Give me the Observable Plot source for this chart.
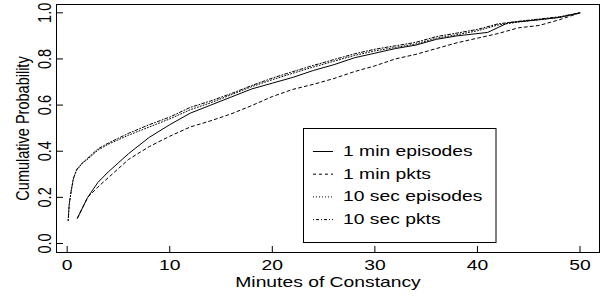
<!DOCTYPE html>
<html><head><meta charset="utf-8">
<script src="https://cdn.jsdelivr.net/npm/d3@7"></script>
<script src="https://cdn.jsdelivr.net/npm/@observablehq/plot@0.6"></script>
<style>body{margin:0;background:#fff;} svg{display:block}</style>
</head><body><div id="chart"></div>
<script>
const xTicks = [0, 10, 20, 30, 40, 50];
const yTicks = [0, 0.2, 0.4, 0.6, 0.8, 1.0];
const seriesNames = ["1 min episodes", "1 min pkts", "10 sec episodes", "10 sec pkts"];
const dashStyles = ["none", "3,3", "1,2", "1,2,3,2"];

const minEpisodesX = [1, 2, 3, 4, 5, 6, 8, 10, 12, 14, 16, 18, 20, 22, 24, 26, 28, 30, 32, 34, 36, 38, 41, 43, 46, 48, 50];
const minEpisodesY = [0.11, 0.20, 0.265, 0.31, 0.35, 0.39, 0.46, 0.515, 0.565, 0.60, 0.635, 0.67, 0.695, 0.72, 0.75, 0.775, 0.805, 0.825, 0.845, 0.86, 0.885, 0.90, 0.915, 0.957, 0.97, 0.98, 1.0];

const minPktsX = [1, 2, 3, 4, 6, 8, 10, 12, 14, 16, 18, 20, 22, 24, 26, 28, 30, 32, 34, 36, 38, 40, 42, 44, 46, 48, 50];
const minPktsY = [0.11, 0.20, 0.245, 0.285, 0.365, 0.42, 0.465, 0.505, 0.532, 0.562, 0.598, 0.637, 0.668, 0.69, 0.715, 0.745, 0.77, 0.80, 0.82, 0.845, 0.87, 0.89, 0.91, 0.935, 0.945, 0.97, 1.0];

const secX = [0.1, 0.2, 0.4, 0.6, 0.9, 1.5, 2, 3, 4, 6, 8, 10, 12, 14, 16, 18, 20, 22, 24, 26, 28, 30, 32, 34, 36, 38, 40, 42, 44, 46, 48, 50];
const secEpisodesY = [0.10, 0.17, 0.23, 0.28, 0.315, 0.35, 0.365, 0.405, 0.43, 0.47, 0.505, 0.54, 0.58, 0.61, 0.645, 0.68, 0.71, 0.738, 0.765, 0.79, 0.815, 0.835, 0.85, 0.865, 0.89, 0.905, 0.922, 0.947, 0.96, 0.97, 0.98, 1.0];
const secPktsY = [0.10, 0.17, 0.23, 0.28, 0.32, 0.35, 0.37, 0.41, 0.435, 0.478, 0.515, 0.548, 0.59, 0.618, 0.65, 0.685, 0.717, 0.745, 0.772, 0.797, 0.822, 0.842, 0.857, 0.872, 0.897, 0.912, 0.928, 0.952, 0.963, 0.973, 0.983, 1.0];

const seriesX = [minEpisodesX, minPktsX, secX, secX];
const seriesY = [minEpisodesY, minPktsY, secEpisodesY, secPktsY];

const FS = 14.5;
const S = 1.33; // horizontal stretch of the original figure

const lineMarks = seriesNames.map((name, i) => {
  const rows = seriesX[i].map((x, j) => ({x, y: seriesY[i][j], series: name}));
  return Plot.line(rows, {x: "x", y: "y", stroke: "black", strokeWidth: 1, strokeDasharray: dashStyles[i] === "none" ? null : dashStyles[i]});
});

const svg = Plot.plot({
  width: 605, height: 297,
  marginLeft: 56, marginRight: 6, marginTop: 4, marginBottom: 45,
  x: {domain: [-1.04, 51.9], axis: null},
  y: {domain: [-0.039, 1.036], axis: null},
  style: {fontFamily: "'Liberation Sans', Arial, sans-serif", fontSize: FS + "px", color: "black", background: "white"},
  marks: [
    Plot.frame({stroke: "black", strokeWidth: 1}),
    Plot.tickX(xTicks, {x: d => d, insetTop: 242, stroke: "black"}),
    Plot.tickY(yTicks, {y: d => d, insetRight: 536, stroke: "black"}),
    Plot.axisX(xTicks, {tickSize: 0, tickPadding: 7, label: null, fontSize: FS}),
    Plot.text(yTicks, {y: d => d, text: d => d.toFixed(1), frameAnchor: "left", dx: -6, rotate: -90, textAnchor: "middle", lineAnchor: "bottom", fontSize: FS}),
    Plot.text(["Cumulative Probability"], {text: d => d, frameAnchor: "left", dx: -28, rotate: -90, textAnchor: "middle", lineAnchor: "bottom", fontSize: FS}),
    Plot.text(["Minutes of Constancy"], {text: d => d, frameAnchor: "bottom", dy: 34.5, lineAnchor: "bottom", fontSize: FS}),
    ...lineMarks
  ]
});
document.getElementById("chart").appendChild(svg);

// legend
const leg = d3.select(svg).append("g").attr("text-anchor", "start");
leg.append("rect").attr("x", 303.5).attr("y", 128.5).attr("width", 192.5).attr("height", 114)
  .attr("fill", "white").attr("stroke", "black").attr("stroke-width", 1);
seriesNames.forEach((name, i) => {
  const yb = 156 + i * 22.7;
  leg.append("line").attr("x1", 313).attr("x2", 333).attr("y1", yb - 4.5).attr("y2", yb - 4.5)
    .attr("stroke", "black").attr("stroke-width", 1)
    .attr("stroke-dasharray", dashStyles[i] === "none" ? null : dashStyles[i]);
  leg.append("text").attr("x", 343).attr("y", yb).attr("font-size", FS + "px")
    .attr("text-anchor", "start")
    .attr("font-family", "'Liberation Sans', Arial, sans-serif").attr("fill", "black").text(name);
});

// emulate the horizontally stretched original
svg.querySelectorAll("text").forEach(t => {
  if (!t.textContent) return;
  const tr = t.getAttribute("transform") || "";
  const fs = parseFloat(getComputedStyle(t).fontSize);
  if (/rotate\(/.test(tr)) {
    const L0 = t.getComputedTextLength();
    t.style.fontSize = (fs * S) + "px";
    t.setAttribute("textLength", L0);
  } else {
    const L = t.getComputedTextLength();
    t.setAttribute("textLength", L * S);
  }
  t.setAttribute("lengthAdjust", "spacingAndGlyphs");
});
</script>
</body></html>
